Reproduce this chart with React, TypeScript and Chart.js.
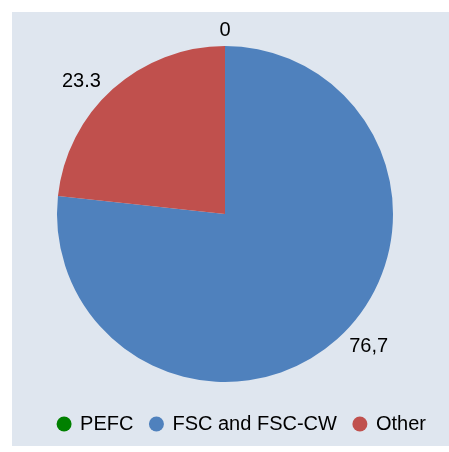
import React, { useEffect, useRef } from "react";
import { Chart, registerables } from "chart.js";

Chart.register(...registerables);

const categories = ["PEFC", "FSC and FSC-CW", "Other"];
const values = [0, 76.7, 23.3];
const valueLabels = ["0", "76,7", "23.3"];
const colors = ["#008000", "#4f81bd", "#c0504d"];

const FONT = "'Liberation Sans', Arial, sans-serif";

const bgPlugin = {
  id: "bgPanel",
  beforeDraw(chart: any) {
    const ctx = chart.ctx;
    ctx.save();
    ctx.fillStyle = "#ffffff";
    ctx.fillRect(0, 0, chart.width, chart.height);
    ctx.fillStyle = "#dfe6ef";
    ctx.fillRect(12, 12, chart.width - 12, 434);
    ctx.restore();
  },
};

const legendShift = {
  id: "legendShift",
  afterLayout(chart: any) {
    if (chart.legend) {
      chart.legend.left += 17;
      chart.legend.right += 17;
    }
  },
};

const labelPlugin = {
  id: "sliceLabels",
  afterDatasetsDraw(chart: any) {
    const ctx = chart.ctx;
    const meta = chart.getDatasetMeta(0);
    ctx.save();
    ctx.font = `20px ${FONT}`;
    ctx.fillStyle = "#000000";
    ctx.textAlign = "center";
    ctx.textBaseline = "middle";
    meta.data.forEach((arc: any, i: number) => {
      const p = arc.getProps(["x", "y", "startAngle", "endAngle", "outerRadius"], true);
      const a = (p.startAngle + p.endAngle) / 2;
      const text = valueLabels[i];
      const w = ctx.measureText(text).width;
      const h = 15;
      const c = Math.cos(a);
      const s = Math.sin(a);
      const d = p.outerRadius + 8;
      const ox = c * w;
      const oy = s * (h / 2) * Math.pow(Math.abs(s), 5);
      ctx.fillText(text, p.x + c * d + ox, p.y + s * d + oy);
    });
    ctx.restore();
  },
};

export default function App() {
  const ref = useRef<HTMLCanvasElement | null>(null);

  useEffect(() => {
    if (!ref.current) return;
    const chart = new Chart(ref.current, {
      type: "pie",
      data: {
        labels: categories,
        datasets: [
          {
            data: values,
            backgroundColor: colors,
            borderWidth: 0,
            radius: 168,
          } as any,
        ],
      },
      options: {
        responsive: false,
        animation: false,
        events: [],
        layout: { padding: { left: 1, right: 0, top: 31, bottom: 8 } },
        plugins: {
          tooltip: { enabled: false },
          legend: {
            position: "bottom",
            labels: {
              usePointStyle: true,
              pointStyle: "circle",
              boxWidth: 12,
              boxHeight: 10.6,
              padding: 17,
              color: "#000000",
              font: { size: 20, family: FONT },
            },
          },
        },
      },
      plugins: [bgPlugin, legendShift, labelPlugin],
    });
    return () => chart.destroy();
  }, []);

  return (
    <div style={{ position: "absolute", left: 0, top: 0, width: 449, height: 452 }}>
      <canvas ref={ref} width={449} height={452} style={{ display: "block", width: 449, height: 452 }} />
    </div>
  );
}
